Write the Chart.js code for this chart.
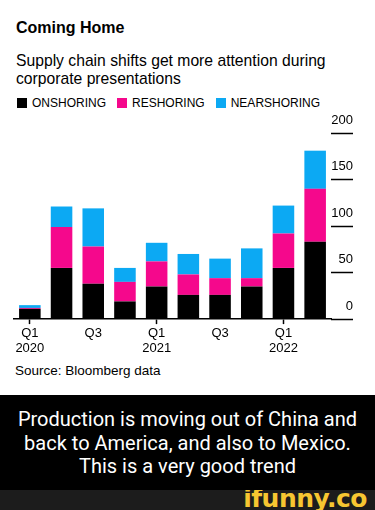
<!DOCTYPE html>
<html>
<head>
<meta charset="utf-8">
<script src="https://cdn.jsdelivr.net/npm/chart.js@4.4.1/dist/chart.umd.min.js"></script>
<style>
  html, body { margin: 0; padding: 0; background: #fff; }
  body { width: 375px; height: 510px; position: relative; overflow: hidden; font-family: "Liberation Sans", Arial, sans-serif; color: #000; }
  .title { position: absolute; left: 16px; top: 19px; font-size: 16px; font-weight: bold; }
  .subtitle { position: absolute; left: 16px; top: 52px; font-size: 15.7px; line-height: 18px; width: 355px; }
  .legend { position: absolute; left: 17px; top: 96px; font-size: 12px; display: flex; }
  .legend span.item { display: flex; align-items: center; margin-right: 11px; }
  .legend i { display: inline-block; width: 10px; height: 10px; margin-right: 5px; }
  .chartbox { position: absolute; left: 0; top: 108px; width: 375px; height: 250px; }
  .source { position: absolute; left: 15px; top: 363px; font-size: 13.5px; }
  .caption { position: absolute; left: 0; top: 395px; width: 375px; height: 95px; background: #000; color: #fff;
             font-family: Roboto, sans-serif; font-size: 20px; line-height: 23.5px; text-align: center; padding-top: 13px; box-sizing: border-box; }
  .footer { position: absolute; left: 0; top: 490px; width: 375px; height: 20px; background: #1c1c1c; overflow: hidden; }
  .footer span { position: absolute; right: 8px; top: -6px; color: #f7c631; font-family: "DejaVu Sans", sans-serif; font-weight: bold; font-size: 25px; letter-spacing: -0.5px; }
</style>
</head>
<body>
<div class="title">Coming Home</div>
<div class="subtitle">Supply chain shifts get more attention during corporate presentations</div>
<div class="legend" id="legend"></div>
<div class="chartbox"><canvas id="barChart"></canvas></div>
<div class="source">Source: Bloomberg data</div>
<div class="caption">Production is moving out of China and<br>back to America, and also to Mexico.<br>This is a very good trend</div>
<div class="footer"><span>ifunny.co</span></div>

<script>
// quarters Q1 2020 .. Q2 2022
const quarters = ['Q1 2020', 'Q2 2020', 'Q3 2020', 'Q4 2020', 'Q1 2021', 'Q2 2021', 'Q3 2021', 'Q4 2021', 'Q1 2022', 'Q2 2022'];
const tickLabels = [['Q1', '2020'], '', 'Q3', '', ['Q1', '2021'], '', 'Q3', '', ['Q1', '2022'], ''];
const seriesNames = ['ONSHORING', 'RESHORING', 'NEARSHORING'];
const seriesColors = ['#000000', '#f5088c', '#0ca9f3'];

const onshoring = [11, 55, 38, 19, 35, 26, 26, 35, 55, 83];
const reshoring = [1, 44, 40, 21, 27, 22, 18, 9, 37, 57];
const nearshoring = [3, 22, 41, 15, 20, 22, 21, 32, 30, 41];

const yMax = 200;
const yStep = 50;

// html legend
const legendEl = document.getElementById('legend');
seriesNames.forEach((name, i) => {
    const item = document.createElement('span');
    item.className = 'item';
    item.innerHTML = `<i style="background:${seriesColors[i]}"></i>${name}`;
    legendEl.appendChild(item);
});

const ctx = document.getElementById('barChart').getContext('2d');
new Chart(ctx, {
    type: 'bar',
    data: {
        labels: quarters,
        datasets: [onshoring, reshoring, nearshoring].map((vals, i) => ({
            label: seriesNames[i],
            data: vals,
            backgroundColor: seriesColors[i],
            barPercentage: 0.68,
            categoryPercentage: 1
        }))
    },
    options: {
        responsive: true,
        maintainAspectRatio: false,
        animation: false,
        layout: { padding: { left: 14, right: 22, top: 25, bottom: 0 } },
        plugins: {
            legend: { display: false },
            tooltip: { enabled: false }
        },
        scales: {
            x: {
                stacked: true,
                border: { display: true, color: '#000', width: 1.5 },
                grid: {
                    offset: false,
                    drawOnChartArea: false,
                    tickLength: 5,
                    tickWidth: 1.5,
                    color: c => (c.index % 4 === 0 ? '#000' : 'rgba(0,0,0,0)')
                },
                ticks: {
                    autoSkip: false,
                    maxRotation: 0,
                    padding: 2,
                    color: '#000',
                    font: { family: 'Liberation Sans', size: 13, lineHeight: 1.15 },
                    callback: (v, i) => tickLabels[i]
                }
            },
            y: {
                stacked: true,
                position: 'right',
                min: 0,
                max: yMax,
                border: { display: false },
                afterFit: axis => { axis.width = 22; },
                grid: {
                    drawOnChartArea: false,
                    tickLength: 22,
                    tickWidth: 1.5,
                    color: '#000'
                },
                ticks: {
                    stepSize: yStep,
                    padding: -22,
                    crossAlign: 'far',
                    labelOffset: -13,
                    color: '#000',
                    font: { family: 'Liberation Sans', size: 13 }
                }
            }
        }
    }
});
</script>
</body>
</html>
